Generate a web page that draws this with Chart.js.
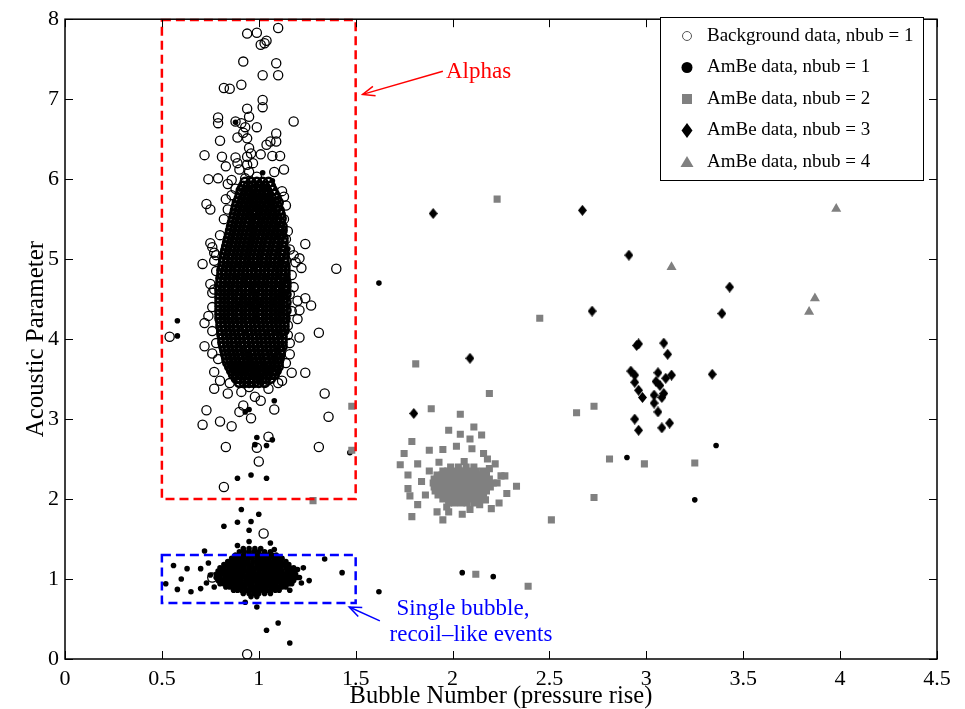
<!DOCTYPE html>
<html><head><meta charset="utf-8">
<script src="https://cdn.jsdelivr.net/npm/chart.js@4.4.0/dist/chart.umd.min.js"></script>
<style>html,body{margin:0;padding:0;background:#fff;overflow:hidden}</style>
</head><body>
<canvas id="c" width="965" height="709" style="display:block;width:965px;height:709px"></canvas>
<script>
// ---------------- DATA ----------------
const xTickLabels = ['0','0.5','1','1.5','2','2.5','3','3.5','4','4.5'];
const yTickLabels = ['0','1','2','3','4','5','6','7','8'];
const xTitle = 'Bubble Number (pressure rise)';
const yTitle = 'Acoustic Parameter';
const seriesLabels = ['Background data, nbub = 1','AmBe data, nbub = 1','AmBe data, nbub = 2','AmBe data, nbub = 3','AmBe data, nbub = 4'];

// Background data, nbub = 1 : scattered circles
const bgScatter = [
[1.10,7.89],[0.94,7.82],[0.99,7.83],[1.04,7.73],[1.01,7.68],[1.03,7.70],[0.92,7.47],[1.09,7.45],[1.02,7.30],[1.10,7.30],
[0.82,7.14],[0.85,7.13],[0.91,7.18],[1.02,6.99],[1.02,6.90],[0.94,6.88],[0.79,6.77],[0.79,6.70],[0.95,6.78],[0.88,6.72],
[0.91,6.70],[0.99,6.65],[1.18,6.72],[0.93,6.65],[1.09,6.57],[0.80,6.48],[0.89,6.52],[0.92,6.58],[0.94,6.51],[1.06,6.47],
[1.09,6.47],[1.04,6.43],[0.95,6.39],[0.72,6.30],[0.81,6.28],[0.88,6.27],[0.94,6.28],[0.96,6.32],[1.01,6.31],[1.07,6.29],
[1.11,6.29],[0.83,6.16],[0.89,6.20],[0.94,6.18],[0.97,6.20],[1.13,6.12],[1.08,6.09],[0.90,6.12],[0.95,6.09],[0.99,6.03],
[0.74,6.00],[0.79,6.01],[0.86,5.99],[0.93,6.01],[0.84,5.94],[0.73,5.69],[0.75,5.62],[0.83,5.75],[1.13,5.78],[1.14,5.67],
[1.13,5.50],[1.07,5.58],[0.75,5.20],[0.76,5.15],[0.77,5.08],[1.24,5.19],[1.14,5.25],[0.71,4.94],[0.77,4.98],[1.14,4.98],
[1.19,4.96],[1.21,5.01],[1.22,4.89],[1.40,4.88],[0.75,4.69],[0.76,4.58],[1.16,4.56],[1.20,4.48],[1.24,4.51],[1.27,4.42],
[1.21,4.36],[0.72,4.20],[0.74,4.29],[1.20,4.25],[1.15,4.17],[1.31,4.08],[0.54,4.03],[1.21,4.02],[0.72,3.91],[0.76,3.82],
[1.15,4.05],[1.16,3.81],[1.17,3.58],[1.24,3.58],[1.12,3.48],[0.77,3.59],[0.77,3.38],[0.84,3.32],[0.91,3.34],[0.98,3.28],
[1.01,3.23],[1.34,3.32],[0.73,3.11],[0.71,2.93],[0.80,2.97],[0.86,2.91],[0.90,3.09],[0.92,3.17],[0.96,3.01],[1.08,3.12],
[1.36,3.03],[0.83,2.65],[0.99,2.64],[1.00,2.47],[1.05,2.78],[1.31,2.65],[0.82,2.15],[1.025,1.57],[0.94,0.06],[0.76,1.02],
[0.87,0.94],[0.76,4.40],[0.77,4.62],[0.78,4.85],[0.78,5.05],[0.80,5.30],[0.82,5.50],[0.84,5.62],[0.86,5.80],[1.15,5.35],
[1.16,5.12],[1.17,4.80],[1.18,4.65],[1.17,4.35],[1.16,3.95],[1.14,3.70],[0.79,3.75],[0.78,3.95],[0.76,4.10],[1.18,5.05],
[0.88,5.88],[1.12,5.85],[0.80,3.48],[0.85,3.45],[1.10,3.45],[0.95,3.40],[1.05,3.38]
];
// Background data, nbub = 1 : dense core, rows of [y, [x...]]
const bgCoreRows = [
[5.96,[0.93,0.96,0.99,1.02,1.05]],
[5.91,[0.92,0.945,0.97,1.00,1.03,1.06]],
[5.86,[0.91,0.935,0.96,0.985,1.01,1.04,1.07]],
[5.81,[0.905,0.93,0.95,0.98,1.00,1.025,1.05,1.08]],
[5.76,[0.90,0.92,0.945,0.97,0.99,1.015,1.04,1.065,1.09]],
[5.71,[0.89,0.915,0.935,0.96,0.985,1.01,1.03,1.055,1.08,1.10]],
[5.66,[0.885,0.905,0.93,0.955,0.975,1.00,1.025,1.045,1.07,1.095]],
[5.61,[0.88,0.90,0.92,0.945,0.97,0.99,1.015,1.04,1.06,1.085,1.105]],
[5.56,[0.875,0.895,0.915,0.94,0.965,0.985,1.01,1.03,1.055,1.08,1.11]],
[5.51,[0.87,0.89,0.91,0.935,0.955,0.98,1.00,1.025,1.05,1.07,1.095,1.115]],
[5.46,[0.865,0.885,0.905,0.93,0.95,0.975,0.995,1.02,1.04,1.065,1.09,1.11]],
[5.41,[0.86,0.88,0.90,0.925,0.945,0.97,0.99,1.01,1.035,1.06,1.08,1.105,1.12]],
[5.36,[0.855,0.875,0.895,0.92,0.94,0.96,0.985,1.005,1.03,1.05,1.075,1.10,1.12]],
[5.31,[0.85,0.87,0.89,0.915,0.935,0.955,0.98,1.00,1.02,1.045,1.07,1.09,1.115]],
[5.26,[0.845,0.865,0.885,0.91,0.93,0.95,0.975,0.995,1.015,1.04,1.06,1.085,1.105,1.125]],
[5.21,[0.84,0.86,0.88,0.905,0.925,0.945,0.97,0.99,1.01,1.035,1.055,1.08,1.10,1.125]],
[5.16,[0.835,0.855,0.875,0.90,0.92,0.94,0.965,0.985,1.005,1.03,1.05,1.075,1.095,1.12]],
[5.11,[0.83,0.85,0.87,0.895,0.915,0.935,0.96,0.98,1.00,1.025,1.045,1.07,1.09,1.115,1.13]],
[5.06,[0.825,0.845,0.865,0.89,0.91,0.93,0.955,0.975,0.995,1.02,1.04,1.065,1.085,1.11,1.13]],
[5.01,[0.82,0.84,0.86,0.885,0.905,0.925,0.95,0.97,0.99,1.015,1.035,1.06,1.08,1.105,1.13]],
[4.96,[0.82,0.84,0.865,0.885,0.91,0.93,0.95,0.975,0.995,1.02,1.04,1.06,1.085,1.105,1.13]],
[4.91,[0.815,0.835,0.855,0.88,0.90,0.92,0.945,0.965,0.99,1.01,1.03,1.055,1.075,1.10,1.12,1.135]],
[4.86,[0.81,0.83,0.85,0.875,0.895,0.92,0.94,0.96,0.985,1.005,1.03,1.05,1.07,1.095,1.115,1.135]],
[4.81,[0.81,0.83,0.855,0.875,0.90,0.92,0.94,0.965,0.985,1.01,1.03,1.05,1.075,1.095,1.12,1.135]],
[4.76,[0.805,0.825,0.845,0.87,0.89,0.91,0.935,0.955,0.98,1.00,1.02,1.045,1.065,1.09,1.11,1.135]],
[4.71,[0.805,0.825,0.85,0.87,0.895,0.915,0.935,0.96,0.98,1.005,1.025,1.045,1.07,1.09,1.115,1.14]],
[4.66,[0.80,0.82,0.84,0.865,0.885,0.91,0.93,0.95,0.975,0.995,1.02,1.04,1.06,1.085,1.105,1.13,1.14]],
[4.61,[0.80,0.825,0.845,0.87,0.89,0.91,0.935,0.955,0.98,1.00,1.02,1.045,1.065,1.09,1.11,1.135]],
[4.56,[0.80,0.82,0.84,0.86,0.885,0.905,0.93,0.95,0.97,0.995,1.015,1.04,1.06,1.08,1.105,1.125,1.14]],
[4.51,[0.80,0.825,0.845,0.865,0.89,0.91,0.935,0.955,0.975,1.00,1.02,1.045,1.065,1.085,1.11,1.13]],
[4.46,[0.80,0.82,0.84,0.86,0.885,0.905,0.925,0.95,0.97,0.99,1.015,1.035,1.06,1.08,1.10,1.125,1.14]],
[4.41,[0.80,0.825,0.845,0.87,0.89,0.91,0.935,0.955,0.98,1.00,1.02,1.045,1.065,1.09,1.11,1.13]],
[4.36,[0.80,0.82,0.84,0.86,0.885,0.905,0.93,0.95,0.97,0.995,1.015,1.04,1.06,1.08,1.105,1.125,1.14]],
[4.31,[0.80,0.825,0.845,0.865,0.89,0.91,0.935,0.955,0.975,1.00,1.02,1.045,1.065,1.085,1.11,1.13]],
[4.26,[0.80,0.82,0.84,0.86,0.885,0.905,0.93,0.95,0.97,0.995,1.015,1.04,1.06,1.08,1.105,1.125,1.135]],
[4.21,[0.805,0.825,0.845,0.87,0.89,0.91,0.935,0.955,0.98,1.00,1.02,1.045,1.065,1.09,1.11,1.13]],
[4.16,[0.805,0.825,0.85,0.87,0.89,0.915,0.935,0.96,0.98,1.00,1.025,1.045,1.07,1.09,1.11,1.13]],
[4.11,[0.81,0.83,0.85,0.875,0.895,0.915,0.94,0.96,0.985,1.005,1.025,1.05,1.07,1.095,1.115,1.13]],
[4.06,[0.81,0.835,0.855,0.875,0.90,0.92,0.945,0.965,0.985,1.01,1.03,1.055,1.075,1.095,1.12]],
[4.01,[0.815,0.835,0.86,0.88,0.90,0.925,0.945,0.97,0.99,1.01,1.035,1.055,1.08,1.10,1.12]],
[3.96,[0.815,0.84,0.86,0.88,0.905,0.925,0.95,0.97,0.99,1.015,1.035,1.06,1.08,1.10,1.12]],
[3.91,[0.82,0.84,0.865,0.885,0.905,0.93,0.95,0.975,0.995,1.015,1.04,1.06,1.085,1.105,1.12]],
[3.86,[0.825,0.845,0.865,0.89,0.91,0.93,0.955,0.975,1.00,1.02,1.04,1.065,1.085,1.11]],
[3.81,[0.83,0.85,0.87,0.895,0.915,0.935,0.96,0.98,1.00,1.025,1.045,1.07,1.09,1.11]],
[3.76,[0.835,0.855,0.875,0.90,0.92,0.94,0.965,0.985,1.005,1.03,1.05,1.075,1.095,1.105]],
[3.71,[0.84,0.86,0.88,0.905,0.925,0.945,0.97,0.99,1.01,1.035,1.055,1.08,1.10]],
[3.66,[0.85,0.87,0.89,0.91,0.935,0.955,0.975,1.00,1.02,1.04,1.065,1.085,1.10]],
[3.61,[0.86,0.88,0.90,0.92,0.945,0.965,0.985,1.01,1.03,1.05,1.075,1.09]],
[3.56,[0.87,0.89,0.915,0.935,0.955,0.98,1.00,1.02,1.045,1.065,1.08]],
[3.51,[0.885,0.905,0.93,0.95,0.97,0.995,1.015,1.035,1.06]],
[3.46,[0.90,0.925,0.95,0.975,1.00,1.03]]
];

// AmBe data, nbub = 1 : scattered dots
const ambe1Scatter = [
[0.72,1.35],[0.56,1.17],[0.63,1.13],[0.70,1.13],[0.52,0.94],[0.60,1.00],[0.58,0.87],[0.65,0.84],[0.70,0.88],[1.43,1.08],
[1.26,0.98],[1.16,0.86],[1.62,0.84],[0.93,0.71],[0.99,0.65],[1.04,0.36],[1.10,0.45],[1.16,0.20],[1.23,1.14],[1.34,1.25],
[1.08,1.37],[0.95,1.47],[0.89,1.42],[0.91,1.87],[1.00,1.81],[0.89,1.71],[0.96,1.72],[0.82,1.66],[0.95,1.61],[1.06,1.45],
[0.75,1.05],[0.73,0.95],[0.74,1.20],[0.77,0.90],[1.21,1.02],[1.20,1.12],[1.22,0.95],
[1.07,5.98],[1.02,6.08],[0.88,6.71],[1.15,4.75],[1.15,5.13],[0.58,4.23],[0.58,4.04],[1.08,3.23],[0.95,3.12],[0.93,3.09],
[0.99,2.77],[1.07,2.74],[1.04,2.67],[0.98,2.68],[0.89,2.26],[0.96,2.30],[1.04,2.26],[1.47,2.58],[1.62,4.70],
[2.05,1.08],[2.21,1.03],[2.90,2.52],[3.36,2.67],[3.25,1.99]
];
// AmBe data, nbub = 1 : dense blob, rows of [y, [x...]]
const ambe1CoreRows = [
[1.38,[0.92,0.95,0.98,1.01]],
[1.34,[0.90,0.925,0.95,0.975,1.00,1.03,1.06]],
[1.30,[0.88,0.90,0.925,0.95,0.97,0.995,1.02,1.045,1.07,1.09]],
[1.26,[0.86,0.88,0.90,0.92,0.945,0.965,0.99,1.01,1.035,1.055,1.08,1.10,1.12]],
[1.22,[0.84,0.86,0.88,0.90,0.925,0.945,0.97,0.99,1.01,1.03,1.05,1.075,1.095,1.115,1.14]],
[1.18,[0.82,0.84,0.86,0.885,0.905,0.925,0.945,0.965,0.99,1.01,1.03,1.05,1.07,1.09,1.11,1.13,1.155]],
[1.14,[0.80,0.82,0.845,0.865,0.885,0.905,0.925,0.95,0.97,0.99,1.01,1.035,1.055,1.075,1.095,1.115,1.14,1.16,1.18]],
[1.10,[0.79,0.81,0.83,0.85,0.87,0.895,0.915,0.935,0.955,0.975,1.00,1.02,1.04,1.06,1.08,1.10,1.12,1.145,1.165,1.185]],
[1.06,[0.78,0.80,0.82,0.84,0.86,0.88,0.90,0.92,0.945,0.965,0.985,1.005,1.025,1.045,1.07,1.09,1.11,1.13,1.15,1.17,1.19]],
[1.02,[0.78,0.80,0.825,0.845,0.865,0.885,0.905,0.93,0.95,0.97,0.99,1.01,1.03,1.055,1.075,1.095,1.115,1.135,1.155,1.18,1.195]],
[0.98,[0.79,0.81,0.83,0.85,0.87,0.89,0.91,0.935,0.955,0.975,0.995,1.015,1.04,1.06,1.08,1.10,1.12,1.14,1.16,1.18]],
[0.94,[0.80,0.82,0.84,0.865,0.885,0.905,0.925,0.945,0.965,0.99,1.01,1.03,1.05,1.07,1.09,1.115,1.135,1.155,1.17]],
[0.90,[0.83,0.85,0.87,0.89,0.91,0.93,0.955,0.975,0.995,1.015,1.035,1.06,1.08,1.10,1.12,1.14]],
[0.86,[0.87,0.89,0.91,0.935,0.955,0.975,0.995,1.02,1.04,1.06,1.085,1.105]],
[0.82,[0.92,0.95,0.975,1.00,1.03,1.06]],
[0.78,[0.96,0.99]]
];

// AmBe data, nbub = 2 : scattered squares
const ambe2Scatter = [
[2.23,5.75],[2.45,4.26],[1.81,3.69],[2.19,3.32],[1.89,3.13],[2.04,3.06],[2.64,3.08],[1.98,2.86],[2.04,2.81],[2.11,2.90],
[2.15,2.80],[2.09,2.75],[1.79,2.72],[1.75,2.57],[1.88,2.61],[1.95,2.62],[2.02,2.66],[2.10,2.63],[2.16,2.57],[2.18,2.50],
[1.73,2.43],[1.82,2.44],[2.22,2.44],[1.88,2.35],[1.77,2.30],[2.25,2.29],[2.27,2.29],[2.33,2.16],[1.77,2.13],[1.78,2.04],
[1.82,1.93],[1.79,1.78],[2.28,2.07],[2.24,1.95],[2.20,1.88],[1.92,1.84],[1.95,1.74],[1.98,1.84],[2.05,1.81],[2.09,1.87],
[2.14,1.93],[2.51,1.74],[2.73,3.16],[2.81,2.50],[2.99,2.44],[3.25,2.45],[2.73,2.02],[2.12,1.06],[2.39,0.91],[1.48,3.16],
[1.48,2.61],[1.28,1.98],[1.84,2.22],[1.86,2.05],[2.23,2.20],[2.19,2.38],[1.93,2.46],[2.06,2.47],[1.97,1.90],[2.17,1.99]
];
// AmBe data, nbub = 2 : dense cluster, rows of [y, [x...]]
const ambe2CoreRows = [
[2.40,[1.99,2.03,2.07,2.11]],
[2.35,[1.95,1.975,2.005,2.035,2.06,2.09,2.12,2.155]],
[2.30,[1.92,1.945,1.97,2.00,2.03,2.055,2.085,2.115,2.145,2.175]],
[2.25,[1.905,1.93,1.96,1.99,2.02,2.045,2.075,2.105,2.135,2.16,2.19]],
[2.20,[1.90,1.925,1.955,1.985,2.01,2.04,2.07,2.095,2.125,2.155,2.185,2.21]],
[2.15,[1.905,1.935,1.96,1.99,2.02,2.05,2.075,2.105,2.135,2.165,2.195]],
[2.10,[1.91,1.94,1.97,2.00,2.025,2.055,2.085,2.115,2.145,2.175]],
[2.05,[1.925,1.955,1.985,2.015,2.04,2.07,2.10,2.13,2.16]],
[2.00,[1.95,1.98,2.01,2.04,2.065,2.095,2.125,2.15]],
[1.95,[1.98,2.01,2.045,2.075,2.11]]
];

// AmBe data, nbub = 3 : diamonds
const ambe3 = [
[1.90,5.57],[2.67,5.61],[2.91,5.05],[2.72,4.35],[3.43,4.65],[3.39,4.32],[2.09,3.76],[1.80,3.07],[3.34,3.56],
[2.95,3.92],[2.96,3.94],[3.09,3.95],[3.11,3.81],[2.92,3.60],[2.94,3.55],[2.94,3.46],[2.96,3.36],[2.98,3.27],
[3.06,3.58],[3.05,3.47],[3.07,3.42],[3.10,3.51],[3.13,3.55],[3.04,3.30],[3.09,3.32],[3.08,3.27],[3.04,3.20],
[3.06,3.09],[2.94,3.00],[2.96,2.86],[3.08,2.89],[3.12,2.95]
];
// AmBe data, nbub = 4 : triangles
const ambe4 = [[3.13,4.90],[3.84,4.34],[3.87,4.51],[3.98,5.63]];

// annotations
const alphaText = 'Alphas';
const recoilText = ['Single bubble,', 'recoil\u2013like events'];

// ---------------- helpers ----------------
const toPts = a => a.map(p => ({x: p[0], y: p[1]}));
const fromRows = rows => { const o = []; rows.forEach(r => r[1].forEach(x => o.push({x: x, y: r[0]}))); return o; };
const SERIF = '"Liberation Serif","Times New Roman",Times,serif';
const GRAY = '#808080';

function diamondCanvas(w, h) {
  const c = document.createElement('canvas'); c.width = w; c.height = h;
  const g = c.getContext('2d'); g.fillStyle = '#000';
  g.beginPath(); g.moveTo(w/2, 0); g.lineTo(w, h/2); g.lineTo(w/2, h); g.lineTo(0, h/2); g.closePath(); g.fill();
  return c;
}
const diamondImg = diamondCanvas(9, 11);

function drawMarker(ctx, kind, x, y) {
  ctx.save();
  if (kind === 0) { ctx.strokeStyle = '#555'; ctx.lineWidth = 1; ctx.beginPath(); ctx.arc(x, y, 4.5, 0, Math.PI*2); ctx.stroke(); }
  else if (kind === 1) { ctx.fillStyle = '#000'; ctx.beginPath(); ctx.arc(x, y, 5.5, 0, Math.PI*2); ctx.fill(); }
  else if (kind === 2) { ctx.fillStyle = GRAY; ctx.fillRect(x-5, y-5, 10, 10); }
  else if (kind === 3) { ctx.fillStyle = '#000'; ctx.beginPath(); ctx.moveTo(x, y-7.5); ctx.lineTo(x+5.5, y); ctx.lineTo(x, y+7.5); ctx.lineTo(x-5.5, y); ctx.closePath(); ctx.fill(); }
  else if (kind === 4) { ctx.fillStyle = GRAY; ctx.beginPath(); ctx.moveTo(x, y-6); ctx.lineTo(x+6.5, y+5); ctx.lineTo(x-6.5, y+5); ctx.closePath(); ctx.fill(); }
  ctx.restore();
}

function arrow(ctx, x1, y1, x2, y2, color) {
  ctx.save(); ctx.strokeStyle = color; ctx.lineWidth = 1.5; ctx.setLineDash([]);
  ctx.beginPath(); ctx.moveTo(x1, y1); ctx.lineTo(x2, y2); ctx.stroke();
  const a = Math.atan2(y2 - y1, x2 - x1), L = 13, s = 0.38;
  ctx.beginPath();
  ctx.moveTo(x2 - L*Math.cos(a - s), y2 - L*Math.sin(a - s));
  ctx.lineTo(x2, y2);
  ctx.lineTo(x2 - L*Math.cos(a + s), y2 - L*Math.sin(a + s));
  ctx.stroke(); ctx.restore();
}

const overlay = {
  id: 'overlay',
  afterDatasetsDraw(chart) {
    const ctx = chart.ctx, xs = chart.scales.x, ys = chart.scales.y, A = chart.chartArea;
    const X = v => xs.getPixelForValue(v), Y = v => ys.getPixelForValue(v);
    ctx.save();
    ctx.lineWidth = 2.5; ctx.setLineDash([9, 5]);
    ctx.strokeStyle = '#ff0000';
    ctx.strokeRect(X(0.5), Y(7.99), X(1.5) - X(0.5), Y(2.0) - Y(7.99));
    ctx.strokeStyle = '#0000ff';
    ctx.strokeRect(X(0.5), Y(1.3), X(1.5) - X(0.5), Y(0.7) - Y(1.3));
    ctx.setLineDash([]);
    arrow(ctx, X(1.95), Y(7.35), X(1.536), Y(7.06), '#ff0000');
    arrow(ctx, X(1.625), Y(0.476), X(1.467), Y(0.65), '#0000ff');
    ctx.font = '23px ' + SERIF; ctx.textBaseline = 'middle';
    ctx.fillStyle = '#ff0000'; ctx.textAlign = 'left';
    ctx.fillText(alphaText, X(1.966), Y(7.34));
    ctx.fillStyle = '#0000ff'; ctx.textAlign = 'center';
    ctx.fillText(recoilText[0], X(2.054), Y(0.62));
    ctx.fillText(recoilText[1], X(2.095), Y(0.30));
    ctx.strokeStyle = '#000'; ctx.lineWidth = 1.5;
    ctx.strokeRect(A.left, A.top, A.right - A.left, A.bottom - A.top);
    ctx.lineWidth = 1;
    ctx.beginPath();
    xs.ticks.forEach(t => { const p = Math.round(X(t.value)) + 0.5;
      ctx.moveTo(p, A.bottom); ctx.lineTo(p, A.bottom - 8); ctx.moveTo(p, A.top); ctx.lineTo(p, A.top + 8); });
    ys.ticks.forEach(t => { const p = Math.round(Y(t.value)) + 0.5;
      ctx.moveTo(A.left, p); ctx.lineTo(A.left + 8, p); ctx.moveTo(A.right, p); ctx.lineTo(A.right - 8, p); });
    ctx.stroke();
    const lx = 660, ly = 17, lw = 263, lh = 163;
    ctx.fillStyle = '#fff'; ctx.fillRect(lx, ly, lw, lh);
    ctx.strokeStyle = '#000'; ctx.lineWidth = 1; ctx.strokeRect(lx + 0.5, ly + 0.5, lw, lh);
    ctx.font = '19px ' + SERIF; ctx.textAlign = 'left'; ctx.textBaseline = 'middle'; ctx.fillStyle = '#000';
    seriesLabels.forEach((lab, i) => {
      const yy = 36 + i * 31.5;
      drawMarker(ctx, i, 687, yy);
      ctx.fillStyle = '#000';
      ctx.fillText(lab, 707, yy);
    });
    ctx.restore();
  }
};

const nBgScatter = bgScatter.length;
new Chart(document.getElementById('c'), {
  type: 'scatter',
  data: {
    datasets: [
      {label: seriesLabels[0], data: toPts(bgScatter).concat(fromRows(bgCoreRows)), order: 5,
       pointStyle: 'circle', pointRadius: 4.6,
       pointBorderWidth: c => (c.dataIndex >= nBgScatter ? 2.6 : 1.3),
       pointBackgroundColor: 'rgba(0,0,0,0)', pointBorderColor: '#000'},
      {label: seriesLabels[1], data: fromRows(ambe1CoreRows).concat(toPts(ambe1Scatter)), order: 4,
       pointStyle: 'circle', pointRadius: 2.8, pointBorderWidth: 0, pointBackgroundColor: '#000', pointBorderColor: '#000'},
      {label: seriesLabels[2], data: fromRows(ambe2CoreRows).concat(toPts(ambe2Scatter)), order: 3,
       pointStyle: 'rect', pointRadius: 5, pointBorderWidth: 0, pointBackgroundColor: GRAY, pointBorderColor: GRAY},
      {label: seriesLabels[3], data: toPts(ambe3), order: 2,
       pointStyle: diamondImg, pointRadius: 5, pointBackgroundColor: '#000', pointBorderColor: '#000'},
      {label: seriesLabels[4], data: toPts(ambe4), order: 1,
       pointStyle: 'triangle', pointRadius: 5.8, pointBorderWidth: 0, pointBackgroundColor: GRAY, pointBorderColor: GRAY}
    ]
  },
  options: {
    responsive: false, animation: false, devicePixelRatio: 1,
    events: [],
    layout: {padding: {top: 15, right: 28, bottom: 0, left: 0}},
    plugins: {legend: {display: false}, tooltip: {enabled: false}},
    scales: {
      x: {type: 'linear', min: 0, max: 4.5,
          grid: {display: false, drawTicks: false}, border: {display: false},
          ticks: {stepSize: 0.5, color: '#000', padding: 7, font: {family: SERIF, size: 22},
                  callback: (v, i) => xTickLabels[i]},
          title: {display: true, text: xTitle, color: '#000', font: {family: SERIF, size: 24.5, lineHeight: 1.0}, padding: {top: 0, bottom: 0}},
          afterFit: s => { s.height = 50; }},
      y: {type: 'linear', min: 0, max: 8,
          grid: {display: false, drawTicks: false}, border: {display: false},
          ticks: {stepSize: 1, color: '#000', padding: 6, font: {family: SERIF, size: 22},
                  callback: (v, i) => yTickLabels[i]},
          title: {display: true, text: yTitle, color: '#000', font: {family: SERIF, size: 25, lineHeight: 1.0}, padding: {top: 24, bottom: 0}},
          afterFit: s => { s.width = 65; }}
    }
  },
  plugins: [overlay]
});
</script>
</body></html>
